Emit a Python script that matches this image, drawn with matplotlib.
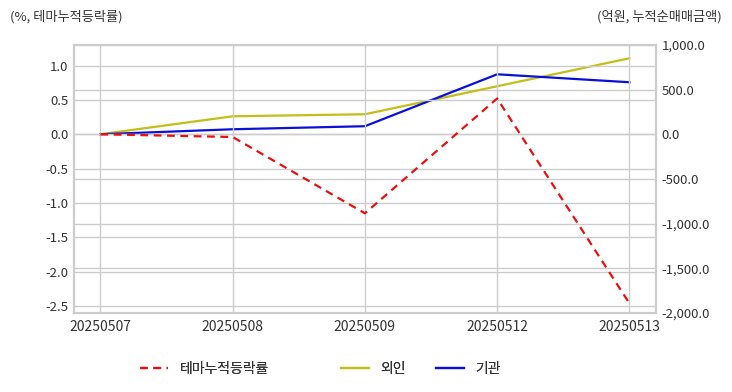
import matplotlib.pyplot as plt
from matplotlib.ticker import FuncFormatter

plt.rcParams['font.family'] = ['Noto Sans CJK KR', 'DejaVu Sans']
plt.rcParams['axes.unicode_minus'] = False

dates = ["20250507", "20250508", "20250509", "20250512", "20250513"]
theme_rate = [0.0, -0.04, -1.15, 0.52, -2.46]
foreign = [0.0, 201, 224, 537, 850]
institution = [0.0, 56, 90, 671, 582]

grid_c = "#cccccc"
text_c = "#333333"

fig = plt.figure(figsize=(7.32, 3.92), dpi=100)
ax = fig.add_axes([0.101, 0.2015, 0.795, 0.684])
ax2 = ax.twinx()

x = list(range(len(dates)))
l1, = ax.plot(x, theme_rate, color="#e8100f", linestyle=(0, (3.5, 2.5)), lw=1.6, label="테마누적등락률")
l2, = ax2.plot(x, foreign, color="#c4bd1a", lw=1.6, label="외인")
l3, = ax2.plot(x, institution, color="#0a10d6", lw=1.6, label="기관")

ax.set_xlim(-0.2, 4.2)
ax.set_ylim(-2.6, 1.3)
ax2.set_ylim(-2000, 1000)
ax.set_xticks(x)
ax.set_xticklabels(dates)
ax.set_yticks([1.0, 0.5, 0.0, -0.5, -1.0, -1.5, -2.0, -2.5])
ax.yaxis.set_major_formatter(FuncFormatter(lambda v, p: f"{v:.1f}"))
ax2.set_yticks([1000, 500, 0, -500, -1000, -1500, -2000])
ax2.yaxis.set_major_formatter(FuncFormatter(lambda v, p: f"{v:,.1f}"))

ax.grid(True, color=grid_c, lw=1)
ax2.grid(True, axis="y", color=grid_c, lw=1)
ax.set_axisbelow(True)
ax2.set_axisbelow(True)
ax.set_zorder(ax2.get_zorder() + 1)
ax.patch.set_visible(False)

for a in (ax, ax2):
    for s in a.spines.values():
        s.set_color(grid_c)
        s.set_linewidth(1.5)
    a.tick_params(length=0, labelsize=9.5, colors=text_c, pad=4)
ax.tick_params(axis="x", pad=5, labelsize=10)

fig.text(0.014, 0.958, "(%, 테마누적등락률)", fontsize=9.5, color=text_c, ha="left", va="center")
fig.text(0.986, 0.958, "(억원, 누적순매매금액)", fontsize=9.5, color=text_c, ha="right", va="center")

# 범례는 항목별로 위치를 따로 잡음
for h, x0 in [(l1, 140), (l2, 341), (l3, 436)]:
    leg = fig.legend(handles=[h], loc="center left", bbox_to_anchor=(x0 / 732, 1 - 369 / 392),
                     frameon=False, fontsize=10, handlelength=2.0, handletextpad=0.85,
                     borderpad=0, borderaxespad=0, labelcolor=text_c)
    fig.add_artist(leg)

fig.savefig("out.png", dpi=100)
